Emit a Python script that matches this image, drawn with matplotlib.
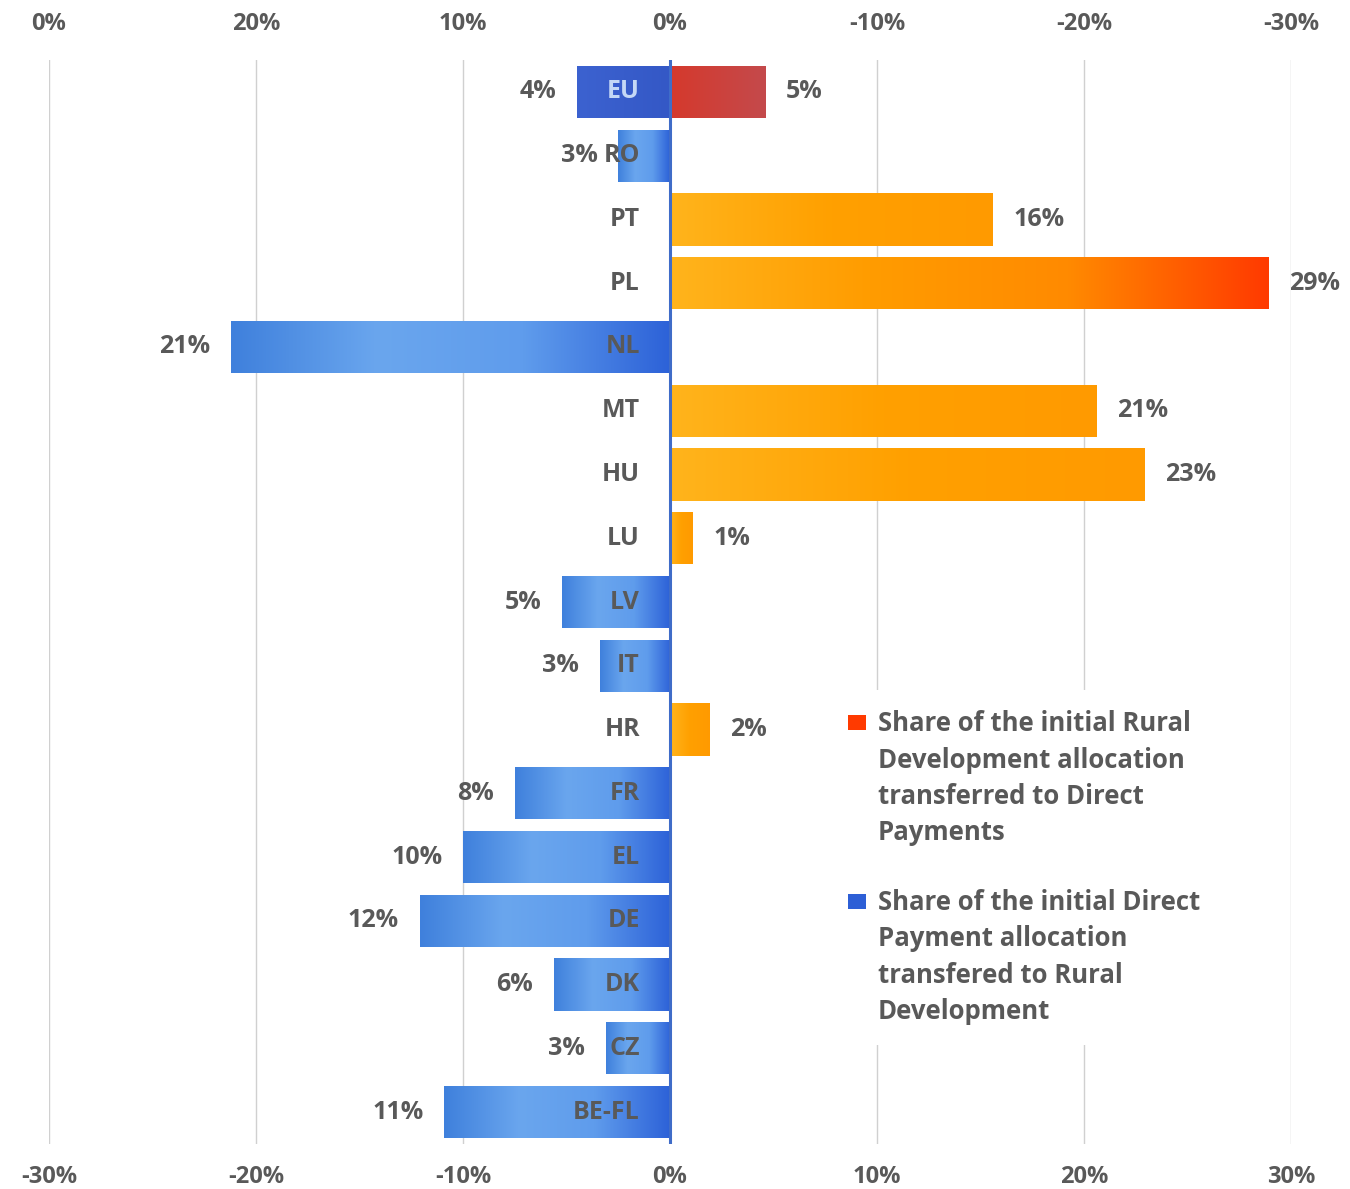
"""
Transfers between CAP pillars by Member State (flexibility between pillars).
Diverging horizontal bar chart with gradient-filled bars.
"""
import numpy as np
import matplotlib
matplotlib.use("Agg")
import matplotlib.pyplot as plt
from matplotlib.colors import LinearSegmentedColormap
from matplotlib.patches import Rectangle

# Data (percent of the initial allocation)
countries = ['EU', 'RO', 'PT', 'PL', 'NL', 'MT', 'HU', 'LU', 'LV',
             'IT', 'HR', 'FR', 'EL', 'DE', 'DK', 'CZ', 'BE-FL']
rd_to_dp = [4.6, 0, 15.6, 28.9, 0, 20.6, 22.9, 1.1, 0,
            0, 1.9, 0, 0, 0, 0, 0, 0]
dp_to_rd = [4.5, 2.5, 0, 0, 21.2, 0, 0, 0, 5.2,
            3.4, 0, 7.5, 10.0, 12.1, 5.6, 3.1, 10.9]
rd_labels = ['5%', '', '16%', '29%', '', '21%', '23%', '1%', '',
             '', '2%', '', '', '', '', '', '']
dp_labels = ['4%', '3%', '', '', '21%', '', '', '', '5%',
             '3%', '', '8%', '10%', '12%', '6%', '3%', '11%']
bottom_ticks = [-30, -20, -10, 0, 10, 20, 30]
bottom_labels = ['-30%', '-20%', '-10%', '0%', '10%', '20%', '30%']
top_labels = ['0%', '20%', '10%', '0%', '-10%', '-20%', '-30%']
legend_labels = ['Share of the initial Rural\nDevelopment allocation\ntransferred to Direct\nPayments',
                 'Share of the initial Direct\nPayment allocation\ntransfered to Rural\nDevelopment']
legend_colors = ['#ff3a00', '#2d5fd6']

TXT = '#595959'
FONT = 'Open Sans'

cm_orange = LinearSegmentedColormap.from_list('o', ['#ffb41c', '#ffa000', '#ff9a00'])
cm_pl = LinearSegmentedColormap.from_list('pl', ['#ffb41c', '#ff9c00', '#ff8a00', '#ff3a00'])
cm_blue = LinearSegmentedColormap.from_list('b', ['#2d62d8', '#5f9cec', '#6aa6ee', '#3f80dc'])
cm_eu_blue = LinearSegmentedColormap.from_list('eb', ['#3458c6', '#3c62d0'])
cm_eu_red = LinearSegmentedColormap.from_list('er', ['#d5392c', '#c44a4c'])

fig = plt.figure(figsize=(13.5, 11.89), dpi=100)
ax = fig.add_axes([49 / 1350, 45 / 1189, (1291 - 49) / 1350, (1144 - 60) / 1189])

y = np.arange(len(countries))
bar_h = 0.82
grad = np.linspace(0, 1, 256).reshape(1, -1)


def fill_gradient(patch, cmap):
    x0, y0 = patch.get_x(), patch.get_y()
    w, h = patch.get_width(), patch.get_height()
    im = ax.imshow(grad, extent=[x0, x0 + w, y0, y0 + h], aspect='auto',
                   cmap=cmap, zorder=3, interpolation='bicubic')
    im.set_clip_path(patch)
    patch.set_facecolor('none')


pos = ax.barh(y, rd_to_dp, height=bar_h, zorder=3, linewidth=0)
neg = ax.barh(y, [-v for v in dp_to_rd], height=bar_h, zorder=3, linewidth=0)

for i, c in enumerate(countries):
    if rd_to_dp[i] > 0:
        cmap = cm_eu_red if c == 'EU' else (cm_pl if c == 'PL' else cm_orange)
        fill_gradient(pos[i], cmap)
    if dp_to_rd[i] > 0:
        cmap = cm_eu_blue if c == 'EU' else cm_blue
        fill_gradient(neg[i], cmap)

# value labels
for i in range(len(countries)):
    if rd_labels[i]:
        ax.annotate(rd_labels[i], (rd_to_dp[i], y[i]), xytext=(15, 0),
                    textcoords='offset points', ha='left', va='center',
                    fontsize=18, fontweight='bold', color=TXT, family=FONT, zorder=5)
    if dp_labels[i]:
        ax.annotate(dp_labels[i], (-dp_to_rd[i], y[i]), xytext=(-15, 0),
                    textcoords='offset points', ha='right', va='center',
                    fontsize=18, fontweight='bold', color=TXT, family=FONT, zorder=5)

# country labels, right-aligned just left of zero
for i, c in enumerate(countries):
    col = '#c4d8f6' if c == 'EU' else TXT
    ax.text(-1.45, y[i], c, ha='right', va='center', fontsize=18,
            fontweight='bold', color=col, family=FONT, zorder=6)

ax.axvline(0, color='#3f6cc8', lw=2.2, zorder=4)

ax.set_xlim(-30, 30)
ax.set_ylim(len(countries) - 0.5, -0.5)
ax.set_xticks(bottom_ticks)
ax.set_xticklabels(bottom_labels)
ax.set_yticks([])
ax.grid(axis='x', color='#d0d0d0', lw=1, zorder=0)
ax.set_axisbelow(True)
for s in ax.spines.values():
    s.set_visible(False)
ax.tick_params(axis='x', length=0, pad=15, labelsize=17, labelcolor=TXT)
for t in ax.get_xticklabels():
    t.set_fontweight('bold')
    t.set_family(FONT)

top = ax.secondary_xaxis('top')
top.set_xticks(bottom_ticks)
top.set_xticklabels(top_labels)
top.tick_params(length=0, pad=17, labelsize=17, labelcolor=TXT)
top.spines['top'].set_visible(False)
for t in top.get_xticklabels():
    t.set_fontweight('bold')
    t.set_family(FONT)

# legend drawn by hand: white box that interrupts the gridlines,
# square marker aligned with the first line of each entry
ax.add_patch(Rectangle((0.637, 0.091), 0.326, 0.328, transform=ax.transAxes,
                       facecolor='white', edgecolor='none', zorder=2))
for k, (lab, col) in enumerate(zip(legend_labels, legend_colors)):
    y_top = [0.400, 0.235][k]
    ax.add_patch(Rectangle((0.643, y_top - 0.018), 0.0145, 0.0135,
                           transform=ax.transAxes, facecolor=col,
                           edgecolor='none', zorder=6))
    ax.text(0.6675, y_top, lab, transform=ax.transAxes, ha='left', va='top',
            fontsize=18.5, fontweight='bold', color=TXT, family=FONT,
            linespacing=1.44, zorder=6)

fig.savefig('out.png', dpi=100, facecolor='white')
